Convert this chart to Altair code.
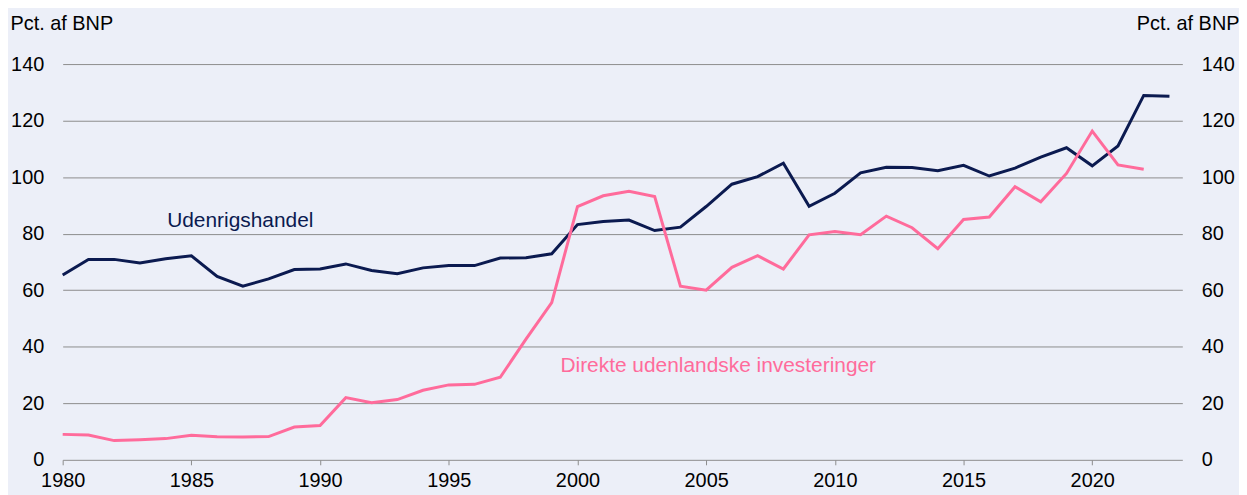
import altair as alt
import pandas as pd

years = list(range(1980, 2024))
udenrigshandel = [65.4, 70.9, 70.9, 69.6, 71.1, 72.2, 64.9, 61.4, 64.0, 67.3,
                  67.5, 69.3, 67.0, 65.8, 67.9, 68.7, 68.7, 71.4, 71.5, 72.9,
                  83.2, 84.3, 84.8, 81.1, 82.3, 89.6, 97.5, 100.2, 104.9, 89.7,
                  94.3, 101.5, 103.5, 103.4, 102.3, 104.2, 100.4, 103.2, 107.1, 110.4,
                  104.0, 111.0, 128.9, 128.6]
dui_years = list(range(1980, 2023))
dui = [9.0, 8.8, 6.8, 7.1, 7.5, 8.7, 8.2, 8.1, 8.2, 11.6,
       12.1, 22.0, 20.2, 21.3, 24.6, 26.5, 26.7, 29.2, 42.7, 55.6,
       89.6, 93.4, 95.0, 93.1, 61.4, 60.0, 68.1, 72.2, 67.5, 79.6,
       80.8, 79.6, 86.2, 82.1, 74.7, 85.0, 85.9, 96.6, 91.3, 101.3,
       116.3, 104.3, 102.8]

series_names = ["Udenrigshandel", "Direkte udenlandske investeringer"]
series_colors = ["#0b1a50", "#ff6b9b"]
label_year = [1986.9, 2005.47]
label_value = [82.5, 31.0]
x_ticks = [1980, 1985, 1990, 1995, 2000, 2005, 2010, 2015, 2020]
y_ticks = [0, 20, 40, 60, 80, 100, 120, 140]

df = pd.concat([
    pd.DataFrame({"year": years, "value": udenrigshandel, "serie": series_names[0]}),
    pd.DataFrame({"year": dui_years, "value": dui, "serie": series_names[1]}),
])
labels = pd.DataFrame({"year": label_year, "value": label_value, "serie": series_names})

FONT = "Liberation Sans"
W, H = 1126, 398

xscale = alt.Scale(domain=[1980, 2023.5], nice=False, zero=False)
yscale = alt.Scale(domain=[0, 140], nice=False)
cscale = alt.Scale(domain=series_names, range=series_colors)

x_enc = alt.X("year:Q", scale=xscale,
              axis=alt.Axis(values=x_ticks, format="d", title=None, grid=False,
                            domain=False, ticks=True, tickSize=5, tickColor="#8c8c8c",
                            labelFontSize=20, labelColor="#000000", labelFont=FONT,
                            labelPadding=6, labelFlush=False))

lines = alt.Chart(df).mark_line(strokeWidth=3).encode(
    x=x_enc,
    y=alt.Y("value:Q", scale=yscale,
            axis=alt.Axis(orient="left", values=y_ticks, grid=True, gridColor="#8c8c8c",
                          gridWidth=1, domain=False, ticks=False, labelPadding=19,
                          labelFontSize=20, labelColor="#000000", labelFont=FONT,
                          title="Pct. af BNP", titleAngle=0, titleX=-53, titleY=-35,
                          titleAlign="left", titleBaseline="alphabetic",
                          titleFontSize=20, titleFontWeight="normal", titleFont=FONT,
                          titleColor="#000000")),
    color=alt.Color("serie:N", scale=cscale, legend=None),
    detail="serie:N",
)

text = alt.Chart(labels).mark_text(fontSize=21, font=FONT, align="center",
                                   baseline="alphabetic").encode(
    x=alt.X("year:Q", scale=xscale),
    y=alt.Y("value:Q", scale=yscale),
    text="serie:N",
    color=alt.Color("serie:N", scale=cscale, legend=None),
)

right = alt.Chart(df).mark_line(opacity=0).encode(
    x=alt.X("year:Q", scale=xscale),
    y=alt.Y("value:Q", scale=yscale,
            axis=alt.Axis(orient="right", values=y_ticks, grid=False, domain=False,
                          ticks=False, labelPadding=19, labelFontSize=20,
                          labelColor="#000000", labelFont=FONT,
                          title="Pct. af BNP", titleAngle=0, titleX=57, titleY=-35,
                          titleAlign="right", titleBaseline="alphabetic",
                          titleFontSize=20, titleFontWeight="normal", titleFont=FONT,
                          titleColor="#000000")),
    detail="serie:N",
)

chart = alt.layer(alt.layer(lines, text), right).resolve_scale(y="independent").properties(
    width=W, height=H,
    background="#eceff8",
    autosize=alt.AutoSizeParams(type="none"),
    padding={"left": 55, "top": 55, "right": 57, "bottom": 34},
).configure_view(stroke=None)

chart.save("out.html", embed_options={"renderer": "svg", "actions": False})
